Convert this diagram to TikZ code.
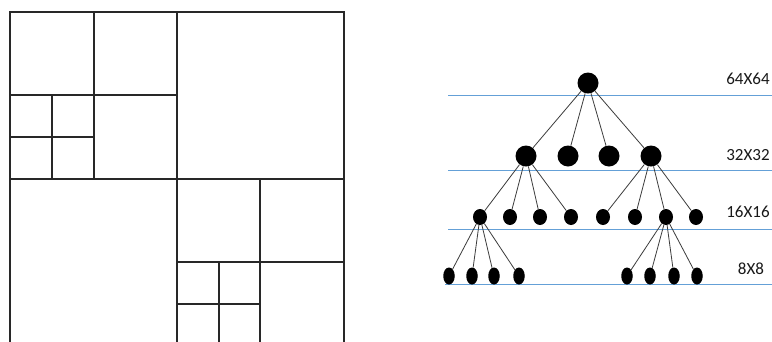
\documentclass[tikz,border=0pt]{standalone}
\usepackage{fontspec}
\setmainfont{Carlito}
\usetikzlibrary{shapes.geometric}
\definecolor{lvl}{RGB}{100,160,215}
\definecolor{grid}{RGB}{40,40,40}
\definecolor{edge}{RGB}{60,60,60}
\tikzset{
  gridline/.style={draw=grid, line width=1.1pt},
  levelline/.style={draw=lvl, line width=1.3pt},
  bigdot/.style={circle, fill=black, inner sep=0pt, minimum size=21pt},
  middot/.style={ellipse, fill=black, inner sep=0pt, minimum width=14pt, minimum height=16pt},
  smalldot/.style={ellipse, fill=black, inner sep=0pt, minimum width=11.5pt, minimum height=17pt},
  treeedge/.style={draw=edge, line width=0.8pt},
  lvllabel/.style={font=\fontsize{17}{19}\selectfont, text=black!90, inner sep=0pt}
}
\begin{document}
\begin{tikzpicture}[x=1pt,y=-1pt]
\useasboundingbox (0,0) rectangle (772,341);
\fill[white] (0,0) rectangle (772,341);
\begin{scope}
\clip (0,0) rectangle (772,341);
% quadtree partition
\draw[gridline] (10,12) rectangle (344,346);
\draw[gridline] (177,12) -- (177,346);
\draw[gridline] (10,179) -- (344,179);
% top-left quadrant
\draw[gridline] (94,12) -- (94,179);
\draw[gridline] (10,95) -- (177,95);
\draw[gridline] (52,95) -- (52,179);
\draw[gridline] (10,137) -- (94,137);
% bottom-right quadrant
\draw[gridline] (260,179) -- (260,346);
\draw[gridline] (177,262) -- (344,262);
\draw[gridline] (219,262) -- (219,346);
\draw[gridline] (177,304) -- (260,304);
\end{scope}
% level lines
\draw[levelline] (448,95.3) -- (772,95.3);
\draw[levelline] (448,170.3) -- (772,170.3);
\draw[levelline] (448,229.3) -- (772,229.3);
\draw[levelline] (445,284.3) -- (772,284.3);
% labels
\node[lvllabel] (l64) at (748,79) {64X64};
\node[lvllabel] (l32) at (748,155) {32X32};
\node[lvllabel] (l16) at (748,212) {16X16};
\node[lvllabel] (l8) at (751,269) {8X8};
% tree nodes
\node[bigdot] (r) at (588,83) {};
\node[bigdot] (a1) at (526,156) {};
\node[bigdot] (a2) at (568,156) {};
\node[bigdot] (a3) at (609,156) {};
\node[bigdot] (a4) at (651,156) {};
\foreach \i/\x in {1/480,2/510,3/540,4/571,5/603,6/635,7/666,8/696}
  \node[middot] (b\i) at (\x,217) {};
\foreach \i/\x in {1/449,2/472,3/494,4/519,5/627,6/650,7/674,8/697}
  \node[smalldot] (c\i) at (\x,276) {};
% edges
\foreach \j in {1,2,3,4} \draw[treeedge] (r) -- (a\j);
\foreach \j in {1,2,3,4} \draw[treeedge] (a1) -- (b\j);
\foreach \j in {5,6,7,8} \draw[treeedge] (a4) -- (b\j);
\foreach \j in {1,2,3,4} \draw[treeedge] (b1) -- (c\j);
\foreach \j in {5,6,7,8} \draw[treeedge] (b7) -- (c\j);
\end{tikzpicture}
\end{document}
